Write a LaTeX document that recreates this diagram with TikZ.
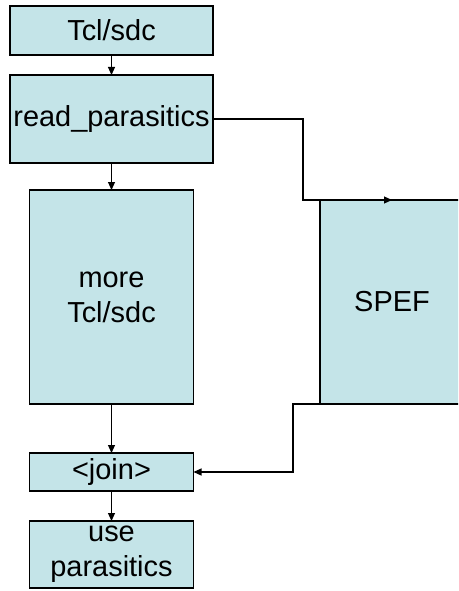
\documentclass[tikz,border=0pt]{standalone}
\usepackage{fontspec}
\setmainfont{Liberation Sans}
\usepackage{tikz}
\usetikzlibrary{arrows.meta,positioning}
\usepackage{xcolor}
\definecolor{paleblue}{RGB}{196,228,232}
\tikzset{%
  >={Triangle[width=2.1mm,length=2.4mm]},
  % Specifications for style of nodes:
        base/.style = {rectangle, draw=black, line width=0.9pt,
                       fill=paleblue, inner sep=0pt, outer sep=0pt,
                       align=center,
                       font=\fontsize{24.7}{30}\selectfont},
     wideblk/.style = {base, minimum width=6.09cm},
   narrowblk/.style = {base, minimum width=4.92cm},
     fileblk/.style = {base, minimum width=4.32cm, minimum height=6.12cm},
}

\begin{document}
\begin{tikzpicture}[line width=0.9pt]
  % page area
  \fill[white] (0,0) rectangle (13.74,-17.73);
  \clip (0,0) rectangle (13.74,-17.73);
  % Specification of nodes (position, etc.)
  \node (tcl)     [wideblk, minimum height=1.47cm] at (3.345,-0.915) {Tcl/sdc};
  \node (readpar) [wideblk, minimum height=2.64cm, below=0.6cm of tcl] {read\_parasitics};
  \node (moretcl) [narrowblk, minimum height=6.42cm, below=0.81cm of readpar] {more\\Tcl/sdc};
  \node (join)    [narrowblk, minimum height=1.14cm, below=1.47cm of moretcl] {<join>};
  \node (usepar)  [narrowblk, minimum height=2.01cm, below=0.9cm of join] {use\\parasitics};
  \node (spef)    [fileblk] at (11.76,-9.06) {SPEF};
  % Specification of lines between nodes specified above
  \draw[->] (tcl) -- (readpar);
  \draw[->] (readpar) -- (moretcl);
  \draw[->] (moretcl) -- (join);
  \draw[->] (join) -- (usepar);
  \draw[->] (readpar.east) -- ++(2.7,0) |- (spef.north);
  \draw[->] (spef.south) -- ++(-2.97,0) |- (join.east);
\end{tikzpicture}
\end{document}
